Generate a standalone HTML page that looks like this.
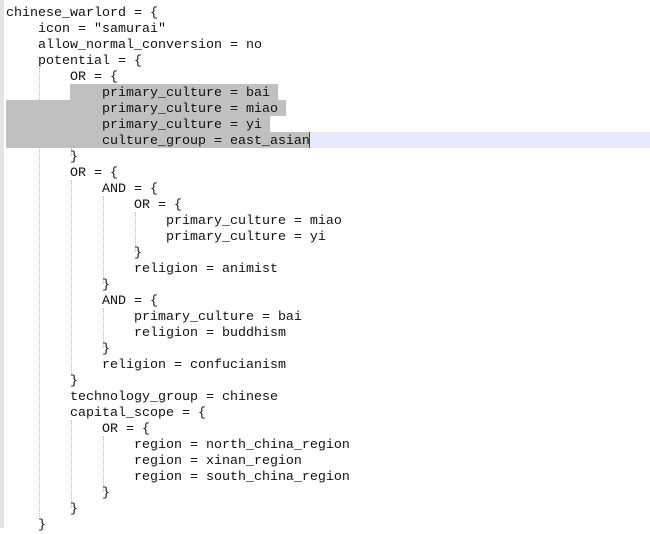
<!DOCTYPE html>
<html><head><style>
body{margin:0;width:650px;height:528px;background:#fff;overflow:hidden;position:relative;font-family:"Liberation Mono",monospace;}
.g{position:absolute;left:0;top:0;width:4px;height:528px;background:#e4e4e4;}
.l{position:absolute;left:6px;height:16px;line-height:16px;font-size:13.33px;color:#111;white-space:pre;margin-top:2px;}
.s{position:absolute;background:#c0c0c0;height:16px;}
.v{position:absolute;width:0;border-left:1px dotted #bbb;}
</style></head><body>
<div class="g"></div>
<div class="s" style="left:70px;top:84px;width:208px"></div>
<div class="s" style="left:6px;top:100px;width:280px"></div>
<div class="s" style="left:6px;top:116px;width:264px"></div>
<div class="s" style="left:6px;top:132px;width:304px"></div>
<div style="position:absolute;left:310px;top:132px;width:340px;height:16px;background:#e8e8ff"></div>
<div style="position:absolute;left:309px;top:132px;width:1px;height:16px;background:#7020c0"></div>
<div class="v" style="left:39px;top:68px;height:448px"></div>
<div class="v" style="left:71px;top:148px;height:8px"></div>
<div class="v" style="left:71px;top:180px;height:196px"></div>
<div class="v" style="left:103px;top:196px;height:88px"></div>
<div class="v" style="left:103px;top:308px;height:40px"></div>
<div class="v" style="left:135px;top:212px;height:40px"></div>
<div class="v" style="left:71px;top:420px;height:88px"></div>
<div class="v" style="left:103px;top:436px;height:56px"></div>
<div class="l" style="top:4px">chinese_warlord = {</div>
<div class="l" style="top:20px">    icon = "samurai"</div>
<div class="l" style="top:36px">    allow_normal_conversion = no</div>
<div class="l" style="top:52px">    potential = {</div>
<div class="l" style="top:68px">        OR = {</div>
<div class="l" style="top:84px">            primary_culture = bai</div>
<div class="l" style="top:100px">            primary_culture = miao</div>
<div class="l" style="top:116px">            primary_culture = yi</div>
<div class="l" style="top:132px">            culture_group = east_asian</div>
<div class="l" style="top:148px">        }</div>
<div class="l" style="top:164px">        OR = {</div>
<div class="l" style="top:180px">            AND = {</div>
<div class="l" style="top:196px">                OR = {</div>
<div class="l" style="top:212px">                    primary_culture = miao</div>
<div class="l" style="top:228px">                    primary_culture = yi</div>
<div class="l" style="top:244px">                }</div>
<div class="l" style="top:260px">                religion = animist</div>
<div class="l" style="top:276px">            }</div>
<div class="l" style="top:292px">            AND = {</div>
<div class="l" style="top:308px">                primary_culture = bai</div>
<div class="l" style="top:324px">                religion = buddhism</div>
<div class="l" style="top:340px">            }</div>
<div class="l" style="top:356px">            religion = confucianism</div>
<div class="l" style="top:372px">        }</div>
<div class="l" style="top:388px">        technology_group = chinese</div>
<div class="l" style="top:404px">        capital_scope = {</div>
<div class="l" style="top:420px">            OR = {</div>
<div class="l" style="top:436px">                region = north_china_region</div>
<div class="l" style="top:452px">                region = xinan_region</div>
<div class="l" style="top:468px">                region = south_china_region</div>
<div class="l" style="top:484px">            }</div>
<div class="l" style="top:500px">        }</div>
<div class="l" style="top:516px">    }</div>
</body></html>
